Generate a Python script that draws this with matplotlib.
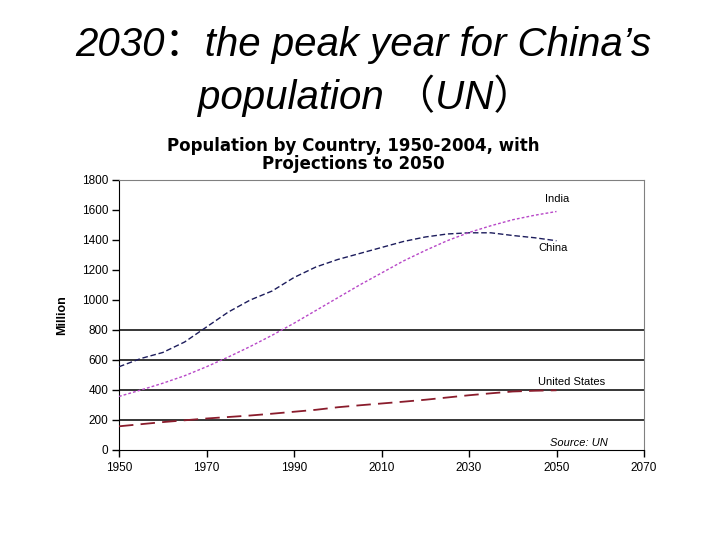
import matplotlib.pyplot as plt

years = [1950, 1955, 1960, 1965, 1970, 1975, 1980, 1985, 1990, 1995, 2000,
         2005, 2010, 2015, 2020, 2025, 2030, 2035, 2040, 2045, 2050]
china = [555, 610, 650, 720, 820, 920, 1000, 1060, 1150, 1220, 1270,
         1310, 1350, 1390, 1420, 1440, 1448, 1448, 1430, 1415, 1395]
india = [357, 400, 445, 495, 555, 620, 690, 765, 845, 930, 1015,
         1100, 1180, 1260, 1330, 1395, 1450, 1495, 1535, 1565, 1590]
usa = [158, 172, 186, 198, 210, 220, 230, 242, 255, 268, 285,
       298, 310, 322, 335, 350, 365, 378, 390, 395, 398]

yticks = [0, 200, 400, 600, 800, 1000, 1200, 1400, 1600, 1800]
xticks = [1950, 1970, 1990, 2010, 2030, 2050, 2070]
grid_levels = [200, 400, 600, 800]

fig = plt.figure(figsize=(7.2, 5.4), dpi=100)
fig.patch.set_facecolor("white")

title_font = ["Liberation Sans", "Noto Sans CJK SC"]
fig.text(0.505, 0.917, "2030：the peak year for China’s", ha="center", va="center",
         fontsize=29, style="italic", family=title_font)
fig.text(0.508, 0.823, "population （UN）", ha="center", va="center",
         fontsize=29, style="italic", family=title_font)

ax = fig.add_axes([119 / 720, 90 / 540, 525 / 720, 270 / 540])

for g in grid_levels:
    ax.axhline(g, color="black", lw=1.1, zorder=1)

ax.plot(years, china, color="#1c1c5c", lw=1.0, ls=(0, (4, 2)), zorder=3)
ax.plot(years, india, color="#b848c8", lw=1.0, ls=(0, (2, 1.5)), zorder=3)
ax.plot(years, usa, color="#8a1c2c", lw=1.3, ls=(0, (8, 4)), zorder=3)

ax.set_xlim(1950, 2070)
ax.set_ylim(0, 1800)
ax.set_xticks(xticks)
ax.set_yticks(yticks)
ax.tick_params(direction="out", length=5, labelsize=8.5, width=1)
ax.tick_params(axis="y", pad=2.5)
for lab in ax.get_xticklabels() + ax.get_yticklabels():
    lab.set_family("Liberation Sans")

ax.spines["left"].set_color("black")
ax.spines["bottom"].set_color("black")
ax.spines["top"].set_color("#808080")
ax.spines["right"].set_color("#808080")

fig.text(62 / 720, 1 - 315 / 540, "Million", rotation=90, ha="center", va="center",
         fontsize=9, fontweight="bold", family="Liberation Sans")

ax.text(2047.4, 1673, "India", fontsize=8, va="center", family="Liberation Sans")
ax.text(2045.8, 1347, "China", fontsize=8, va="center", family="Liberation Sans")
ax.text(2045.8, 453, "United States", fontsize=8, va="center", family="Liberation Sans")
ax.text(2048.5, 47, "Source: UN", fontsize=8, va="center", style="italic",
        family="Liberation Sans")

fig.text(353 / 720, 1 - 155 / 540, "Population by Country, 1950-2004, with\nProjections to 2050",
         ha="center", va="center", fontsize=12, fontweight="bold", family="DejaVu Sans",
         linespacing=1.0)

fig.savefig("out.png", dpi=100, facecolor="white")
